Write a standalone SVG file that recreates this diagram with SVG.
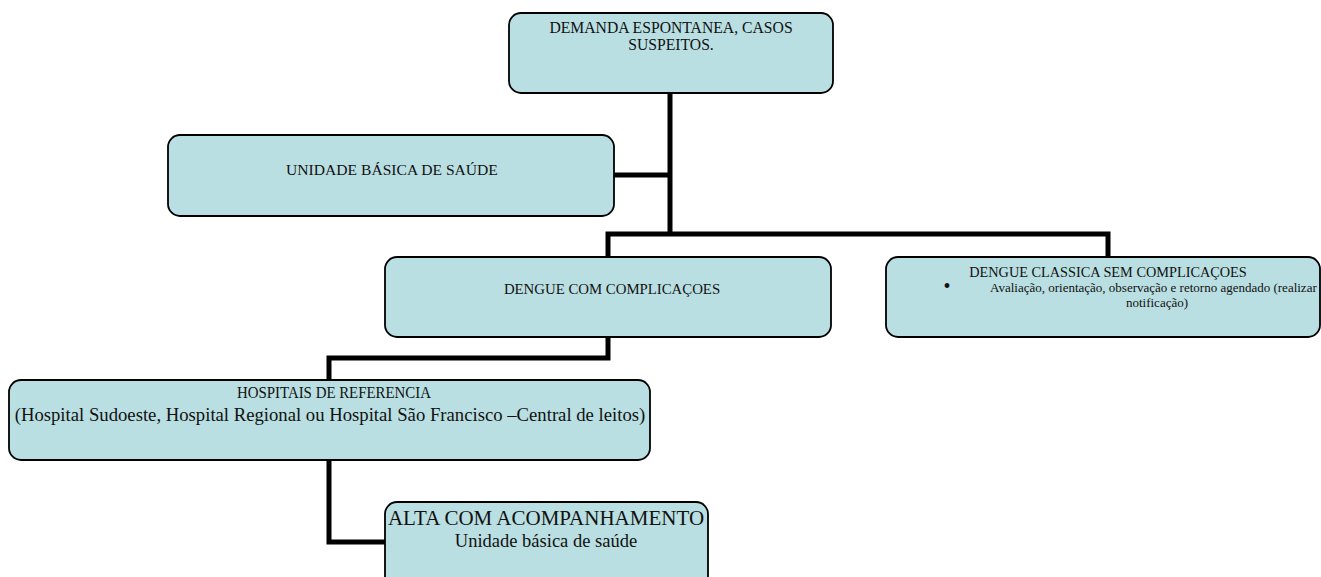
<svg xmlns="http://www.w3.org/2000/svg" width="1321" height="577" viewBox="0 0 1321 577">
<style>
.box{fill:#b9dfe2;stroke:#000;stroke-width:1.8}
.t{font-family:"Liberation Serif","Times New Roman",serif;fill:#111;text-anchor:middle}
.c{fill:none;stroke:#000;stroke-width:5;stroke-linejoin:miter;stroke-linecap:butt}
</style>
<rect width="1321" height="577" fill="#fff"/>
<g id="connectors">
<path class="c" d="M670,93 V234"/>
<path class="c" d="M614,175 H670"/>
<path class="c" d="M608,257 V234 H1108 V257"/>
<path class="c" d="M608,337 V358 H329 V380"/>
<path class="c" d="M329,460 V542 H385"/>
</g>
<g id="n1">
<rect class="box" x="509" y="13" width="324" height="80" rx="12"/>
<text class="t" x="671" y="33" font-size="15.7">DEMANDA ESPONTANEA, CASOS</text>
<text class="t" x="671" y="50" font-size="15.7">SUSPEITOS.</text>
</g>
<g id="n2">
<rect class="box" x="168" y="135" width="446" height="81" rx="12"/>
<text class="t" x="392" y="175" font-size="15.6">UNIDADE BÁSICA DE SAÚDE</text>
</g>
<g id="n3">
<rect class="box" x="385" y="257" width="446" height="80" rx="12"/>
<text class="t" x="612" y="294" font-size="14.8">DENGUE COM COMPLICAÇOES</text>
</g>
<g id="n4">
<rect class="box" x="886" y="257" width="434" height="80" rx="12"/>
<text class="t" x="1108" y="277" font-size="14.3">DENGUE CLASSICA SEM COMPLICAÇOES</text>
<text class="t" x="947" y="293" font-size="20">•</text>
<text class="t" x="990" y="292" font-size="13" style="text-anchor:start">Avaliação, orientação, observação e retorno agendado (realizar</text>
<text class="t" x="1157" y="307" font-size="13">notificação)</text>
</g>
<g id="n5">
<rect class="box" x="9" y="380" width="641" height="80" rx="12"/>
<text class="t" x="334" y="398" font-size="17" textLength="194" lengthAdjust="spacingAndGlyphs">HOSPITAIS DE REFERENCIA</text>
<text class="t" x="330" y="421" font-size="18.7">(Hospital Sudoeste, Hospital Regional ou Hospital São Francisco –Central de leitos)</text>
</g>
<g id="n6">
<rect class="box" x="385" y="502" width="323" height="90" rx="12"/>
<text class="t" x="546" y="525" font-size="21">ALTA COM ACOMPANHAMENTO</text>
<text class="t" x="546" y="547" font-size="18.5">Unidade básica de saúde</text>
</g>
</svg>
